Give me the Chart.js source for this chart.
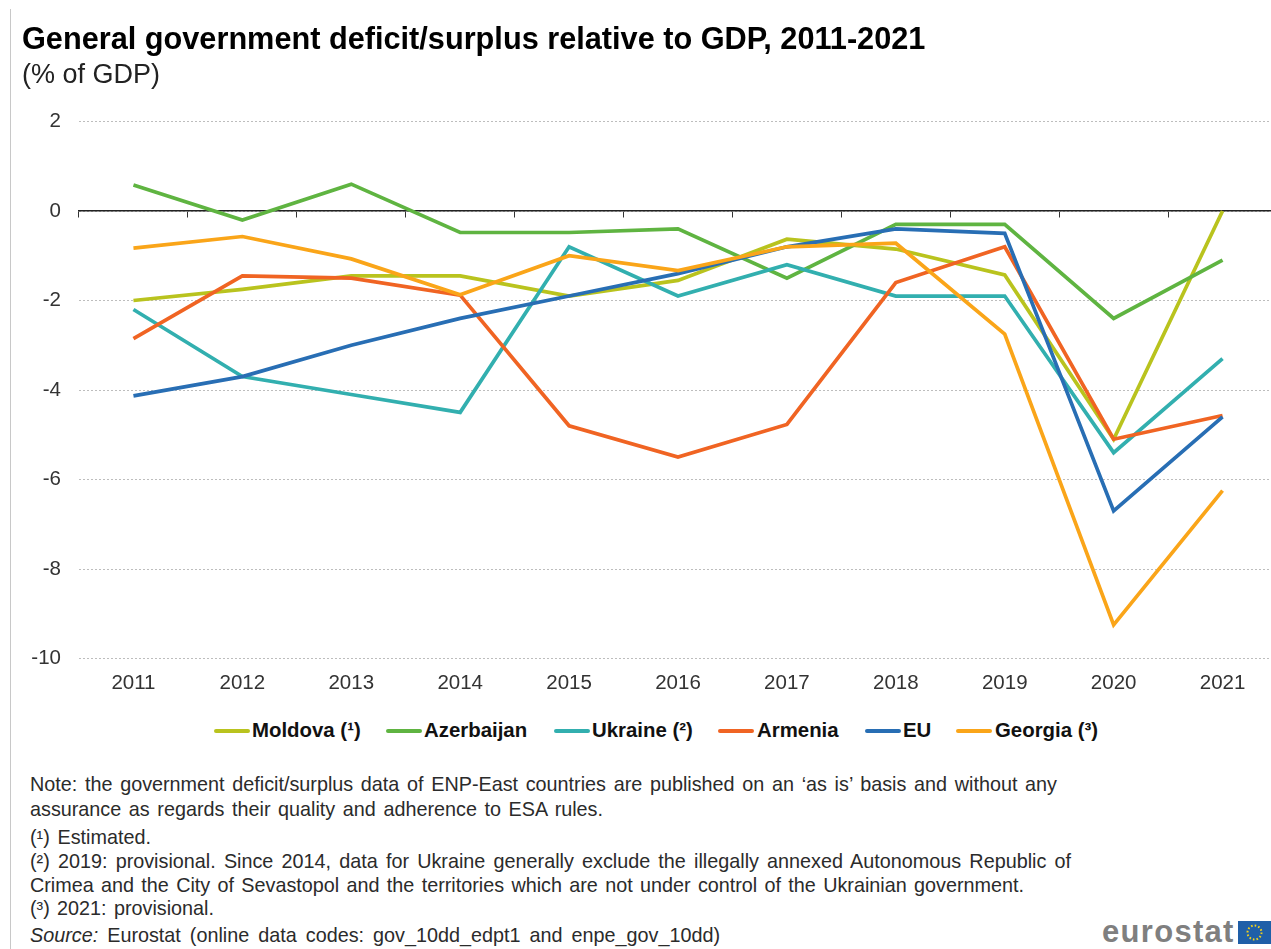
<!DOCTYPE html>
<html>
<head>
<meta charset="utf-8">
<title>General government deficit/surplus relative to GDP, 2011-2021</title>
<script src="https://cdn.jsdelivr.net/npm/chart.js@4/dist/chart.umd.min.js"></script>
<style>
  html, body { margin: 0; padding: 0; background: #fff; }
  body { width: 1271px; height: 949px; position: relative; overflow: hidden; font-family: "Liberation Sans", Arial, sans-serif; }
  #edge { position: absolute; left: 10px; top: 9px; bottom: 0; width: 1px; background: #c8c8c8; }
  #plot { position: absolute; left: 0; top: 0; width: 1290px; height: 700px; }
  .line { position: absolute; white-space: nowrap; color: #2b2b2b; }
  #title { left: 22px; top: 21px; font-size: 30.7px; line-height: 36px; font-weight: bold; color: #000; }
  #unit { left: 22px; top: 58px; font-size: 27px; line-height: 32px; color: #222; }
  .note { left: 30px; font-size: 19.8px; line-height: 24px; text-align: justify; text-align-last: justify; }
  #legend .key { position: absolute; top: 729px; height: 4px; width: 36px; border-radius: 2px; }
  #legend .name { position: absolute; top: 718px; font-size: 20.4px; font-weight: bold; color: #111; white-space: nowrap; line-height: 24px; }
  #logo { position: absolute; left: 1102px; top: 912px; font-size: 31px; letter-spacing: 1.3px; line-height: 40px; font-weight: bold; color: #7f7f7f; white-space: nowrap; }
  #flag { position: absolute; left: 1238px; top: 921px; }
</style>
</head>
<body>
<div id="edge"></div>
<div id="plot"><canvas id="chart" width="1290" height="700"></canvas></div>

<div id="title" class="line">General government deficit/surplus relative to GDP, 2011-2021</div>
<div id="unit" class="line">(% of GDP)</div>
<div id="legend"></div>
<div id="notes"></div>
<div id="logo">eurostat</div>
<svg id="flag" width="33" height="23" viewBox="0 0 33 23">
  <rect width="33" height="23" fill="#1f5fa8"></rect>
  <circle cx="16.5" cy="11.5" r="7" fill="none" stroke="#f2d21b" stroke-width="2" stroke-dasharray="1.6 2.06"></circle>
</svg>

<script>
const years = ['2011', '2012', '2013', '2014', '2015', '2016', '2017', '2018', '2019', '2020', '2021'];

const moldova = [-2.0, -1.75, -1.45, -1.45, -1.9, -1.55, -0.63, -0.85, -1.43, -5.1, 0.0];
const azerbaijan = [0.58, -0.2, 0.6, -0.48, -0.48, -0.4, -1.5, -0.3, -0.3, -2.4, -1.1];
const ukraine = [-2.2, -3.7, -4.1, -4.5, -0.8, -1.9, -1.2, -1.9, -1.9, -5.4, -3.3];
const armenia = [-2.85, -1.45, -1.5, -1.88, -4.8, -5.5, -4.77, -1.6, -0.8, -5.1, -4.57];
const eu = [-4.13, -3.7, -3.0, -2.4, -1.9, -1.4, -0.8, -0.4, -0.5, -6.7, -4.6];
const georgia = [-0.83, -0.57, -1.07, -1.87, -1.0, -1.33, -0.8, -0.72, -2.75, -9.25, -6.25];

const seriesNames = ['Moldova (¹)', 'Azerbaijan', 'Ukraine (²)', 'Armenia', 'EU', 'Georgia (³)'];
const seriesValues = [moldova, azerbaijan, ukraine, armenia, eu, georgia];
const seriesColors = ['#B9C31E', '#5FB441', '#32AFAF', '#F06423', '#286EB4', '#FAA519'];

// left edge of each legend key, and of its label
const legendKeyX = [214, 386, 554, 718, 865, 956];
const legendNameX = [252, 424, 592, 757, 903, 995];

// footnote lines: text, top, right edge used to justify
const noteLines = [
  ['Note: the government deficit/surplus data of ENP-East countries are published on an ‘as is’ basis and without any', 772, 1057],
  ['assurance as regards their quality and adherence to ESA rules.', 797, 603],
  ['(¹) Estimated.', 825, 151],
  ['(²) 2019: provisional. Since 2014, data for Ukraine generally exclude the illegally annexed Autonomous Republic of', 849, 1071],
  ['Crimea and the City of Sevastopol and the territories which are not under control of the Ukrainian government.', 873, 1024],
  ['(³) 2021: provisional.', 896, 214],
  ['<i>Source:</i> Eurostat (online data codes: gov_10dd_edpt1 and enpe_gov_10dd)', 923, 720]
];

const notes = document.getElementById('notes');
noteLines.forEach(([text, top, right]) => {
  const el = document.createElement('div');
  el.className = 'line note';
  el.innerHTML = text;
  el.style.top = top + 'px';
  el.style.width = (right - 30) + 'px';
  notes.appendChild(el);
});

const chart = new Chart(document.getElementById('chart'), {
  type: 'line',
  data: {
    labels: years,
    datasets: seriesNames.map((name, i) => ({
      label: name,
      data: seriesValues[i],
      borderColor: seriesColors[i],
      backgroundColor: seriesColors[i],
      borderWidth: 3.7,
      pointRadius: 0,
      tension: 0,
      order: seriesNames.length - i
    }))
  },
  options: {
    responsive: false,
    animation: false,
    layout: { padding: { top: 121.5, right: 13, left: 0, bottom: 0 } },
    plugins: { legend: { display: false }, tooltip: { enabled: false } },
    scales: {
      x: {
        position: 'bottom',
        offset: true,
        grid: { display: false },
        border: { display: false },
        ticks: { color: '#333', font: { family: 'Liberation Sans', size: 20.5 }, padding: 5, maxRotation: 0 },
        afterFit: (scale) => { scale.height = 41.5; }
      },
      // second category axis carries the baseline and tick marks at zero
      zero: {
        type: 'category',
        axis: 'x',
        labels: years,
        position: { y: 0 },
        offset: true,
        grid: { display: true, drawOnChartArea: false, drawTicks: true, tickLength: 6, tickColor: '#333', offset: true },
        border: { display: true, color: '#222', width: 1.5 },
        ticks: { display: false }
      },
      y: {
        min: -10,
        max: 2,
        grid: {
          drawTicks: false,
          color: '#bdbdbd',
          lineWidth: 1
        },
        border: { display: false, dash: [2, 2] },
        ticks: {
          stepSize: 2,
          color: '#333',
          padding: 18,
          font: { family: 'Liberation Sans', size: 20.5 }
        },
        afterFit: (scale) => { scale.width = 79; }
      }
    }
  }
});

// legend rows come from the chart's own datasets
const legend = document.getElementById('legend');
chart.data.datasets.forEach((ds, i) => {
  const key = document.createElement('div');
  key.className = 'key';
  key.style.left = legendKeyX[i] + 'px';
  key.style.background = ds.borderColor;
  const name = document.createElement('div');
  name.className = 'name';
  name.style.left = legendNameX[i] + 'px';
  name.textContent = ds.label;
  legend.appendChild(key);
  legend.appendChild(name);
});
</script>
</body>
</html>
